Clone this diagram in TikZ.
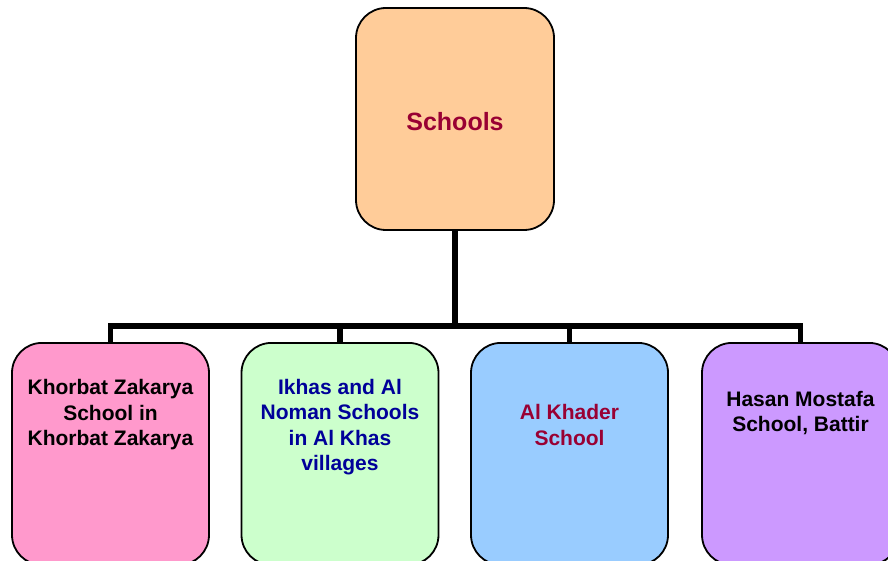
\documentclass[tikz,border=0pt]{standalone}
\usepackage{fontspec}
\setmainfont{Liberation Sans}
\definecolor{peach}{HTML}{FFCC99}
\definecolor{pinkbox}{HTML}{FF99CC}
\definecolor{greenbox}{HTML}{CCFFCC}
\definecolor{bluebox}{HTML}{99CCFF}
\definecolor{violetbox}{HTML}{CC99FF}
\definecolor{darkred}{HTML}{990033}
\definecolor{navy}{HTML}{000099}
\tikzset{
    box/.style={draw=black,line width=1.8pt,rounded corners=30pt,
        minimum width=197pt,minimum height=222pt,inner sep=0pt},
    boxtext/.style={align=center,font=\bfseries\fontsize{21}{25.5}\selectfont},
    bus/.style={line width=5.5pt}
}

\begin{document}
\begin{tikzpicture}[x=1pt,y=-1pt]
    \clip (0,0) rectangle (888,561);
    % top of the tree
    \node[box,fill=peach,minimum width=198pt] (top) at (455,119) {};
    \node[boxtext,text=darkred,font=\bfseries\fontsize{25}{30}\selectfont] (toptext) at (455,122) {Schools};
    % the four schools
    \node[box,fill=pinkbox,anchor=north] (b1) at (110.5,342) {};
    \node[box,fill=greenbox,anchor=north] (b2) at (340,342) {};
    \node[box,fill=bluebox,anchor=north] (b3) at (569.5,342) {};
    \node[box,fill=violetbox,anchor=north] (b4) at (800.5,342) {};
    \node[boxtext] (t1) at (110.5,415) {Khorbat Zakarya\\School in\\Khorbat Zakarya};
    \node[boxtext,text=navy] (t2) at (340,427) {Ikhas and Al\\Noman Schools\\in Al Khas\\villages};
    \node[boxtext,text=darkred] (t3) at (569.5,425) {Al Khader\\School};
    \node[boxtext] (t4) at (800.5,413) {Hasan Mostafa\\School, Battir};
    % connectors
    \coordinate (split) at (455,326);
    \draw[bus] (top.south) -- (split);
    \draw[bus] (b1.north) -- (b1.north |- split) -- (b4.north |- split) -- (b4.north);
    \foreach \b in {b2,b3}{
        \draw[bus] (\b.north) -- (\b.north |- split);
    }
\end{tikzpicture}
\end{document}
